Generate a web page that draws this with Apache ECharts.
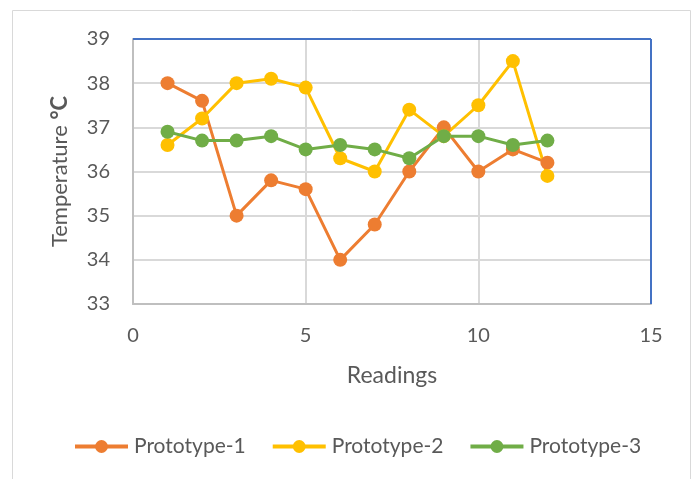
<!DOCTYPE html>
<html><head><meta charset="utf-8">
<script src="https://cdn.jsdelivr.net/npm/echarts@6/dist/echarts.min.js"></script>
<style>html,body{margin:0;padding:0;background:#fff}#c{width:694px;height:479px}</style>
</head><body><div id="c"></div>
<script>
const readings = [1,2,3,4,5,6,7,8,9,10,11,12];
const prototype1 = [38.0,37.6,35.0,35.8,35.6,34.0,34.8,36.0,37.0,36.0,36.5,36.2];
const prototype2 = [36.6,37.2,38.0,38.1,37.9,36.3,36.0,37.4,36.8,37.5,38.5,35.9];
const prototype3 = [36.9,36.7,36.7,36.8,36.5,36.6,36.5,36.3,36.8,36.8,36.6,36.7];
const seriesNames = ['Prototype-1','Prototype-2','Prototype-3'];
const colors = ['#ED7D31','#FFC000','#70AD47'];
const FONT = 'Lato, "Open Sans", sans-serif';

const chart = echarts.init(document.getElementById('c'));
const mk = (name, vals, color) => ({
  name, type:'line', data: readings.map((r,i)=>[r, vals[i]]),
  symbol:'circle', symbolSize:14, lineStyle:{width:3,color}, itemStyle:{color}
});
chart.setOption({
  animation:false,
  textStyle:{fontFamily:FONT},
  graphic:[{type:'rect', shape:{x:12.5,y:10.5,width:678,height:480}, style:{fill:'none',stroke:'#d9d9d9',lineWidth:1}, z:-1},
    {type:'line', shape:{x1:133,y1:39,x2:651,y2:39}, style:{stroke:'#4472C4',lineWidth:2}, z:10},
    {type:'line', shape:{x1:651,y1:39,x2:651,y2:304}, style:{stroke:'#4472C4',lineWidth:2}, z:10}],
  grid:{left:133,right:43,top:39,bottom:175,containLabel:false},
  legend:{bottom:17,left:68,itemWidth:53,itemHeight:16,itemGap:25,
    lineStyle:{width:4},
    textStyle:{fontSize:21,color:'#595959',fontFamily:FONT,padding:[0,0,0,1]},
    data:seriesNames.map((n,i)=>({name:n}))},
  xAxis:{type:'value',min:0,max:15,interval:5,
    name:'Readings',nameLocation:'middle',nameGap:60,
    nameTextStyle:{fontSize:23,color:'#595959'},
    axisLine:{show:true,lineStyle:{color:'#bfbfbf',width:2}},axisTick:{show:false},
    axisLabel:{fontSize:20,color:'#595959',margin:22},
    splitLine:{show:true,lineStyle:{color:'#d9d9d9',width:2}}},
  yAxis:{type:'value',min:33,max:39,interval:1,
    name:'{a|Temperature }{b|°C}',nameLocation:'middle',nameGap:62,
    nameTextStyle:{rich:{a:{fontSize:22,color:'#595959',fontFamily:FONT},b:{fontSize:22,color:'#595959',fontWeight:'bold',fontFamily:FONT}}},
    axisLine:{show:true,lineStyle:{color:'#bfbfbf',width:2}},axisTick:{show:false},
    axisLabel:{fontSize:20,color:'#595959',margin:23},
    splitLine:{show:true,lineStyle:{color:'#d9d9d9',width:2}}},
  series:[mk(seriesNames[0],prototype1,colors[0]),mk(seriesNames[1],prototype2,colors[1]),mk(seriesNames[2],prototype3,colors[2])]
});
</script></body></html>
